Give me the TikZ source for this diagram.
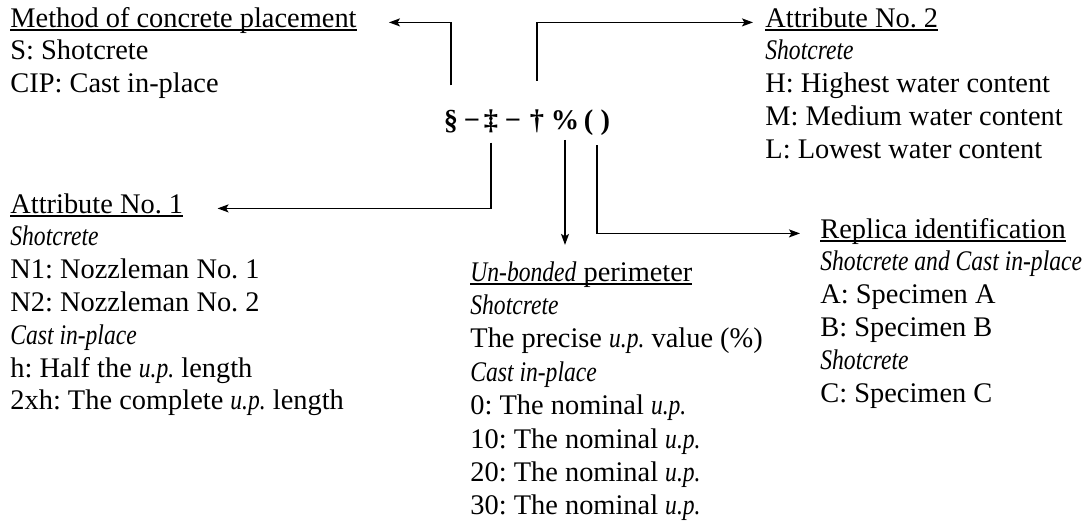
\documentclass[tikz,border=0pt]{standalone}
\usepackage{fontspec}
\setmainfont{Liberation Serif}[ItalicFeatures={FakeStretch=0.83}]
\usetikzlibrary{arrows.meta,positioning}
\frenchspacing

\newsavebox{\headbox}
\newcommand{\head}[1]{\sbox{\headbox}{#1}\rlap{\rule[-2pt]{\wd\headbox}{0.8pt}}\usebox{\headbox}}
\newcommand{\rows}[1]{\begin{tabular}[t]{@{}l@{}}#1\end{tabular}}

\begin{document}
\begin{tikzpicture}[x=0.5pt, y=-0.5pt, >={Stealth[length=5.5pt,width=4pt,inset=1.2pt]},
    txt/.style={anchor=base west, inner sep=0pt, font=\fontsize{14.2}{16.4}\selectfont},
    sym/.style={anchor=base, inner sep=0pt, font=\fontsize{14.2}{16.4}\selectfont\bfseries},
    link/.style={->, line width=0.7pt}]

    \useasboundingbox (0,0) rectangle (1088,525);

    % 1. Specimen code
    \node[sym] (sec)  at (451,129) {§};
    \node[sym] (dsh1) at (472,129) {−};
    \node[sym] (ddag) at (491,129) {‡};
    \node[sym] (dsh2) at (513,129) {−};
    \node[sym] (dag)  at (537,129) {†};
    \node[sym] (pct)  at (565,129) {\%};
    \node[sym] (par)  at (597,129) {( )};

    % 2. Method of concrete placement
    \node[txt] (mtitle) at (10,27) {\head{Method of concrete placement}};
    \node[txt] (mbody) at ([yshift=-16.4pt]mtitle.base west) {\rows{S: Shotcrete\\CIP: Cast in-place}};

    % 3. Attribute No. 2
    \node[txt] (a2title) at (765,27) {\head{Attribute No. 2}};
    \node[txt] (a2body) at ([yshift=-16.4pt]a2title.base west) {\rows{\textit{Shotcrete}\\H: Highest water content\\M: Medium water content\\L: Lowest water content}};

    % 4. Attribute No. 1
    \node[txt] (a1title) at (10,213) {\head{Attribute No. 1}};
    \node[txt] (a1body) at ([yshift=-16.4pt]a1title.base west) {\rows{\textit{Shotcrete}\\N1: Nozzleman No. 1\\N2: Nozzleman No. 2\\\textit{Cast in-place}\\h: Half the \textit{u.p.} length\\2xh: The complete \textit{u.p.} length}};

    % 5. Un-bonded perimeter
    \node[txt] (uptitle) at (470,281) {\head{\textit{Un-bonded} perimeter}};
    \node[txt, font=\fontsize{14.2}{16.7}\selectfont] (upbody) at ([yshift=-16.7pt]uptitle.base west) {\rows{\textit{Shotcrete}\\The precise \textit{u.p.} value (\%)\\\textit{Cast in-place}\\0: The nominal \textit{u.p.}\\10: The nominal \textit{u.p.}\\20: The nominal \textit{u.p.}\\30: The nominal \textit{u.p.}}};

    % 6. Replica identification
    \node[txt] (rtitle) at (820,238) {\head{Replica identification}};
    \node[txt] (rbody) at ([yshift=-16.4pt]rtitle.base west) {\rows{\textit{Shotcrete and Cast in-place}\\A: Specimen A\\B: Specimen B\\\textit{Shotcrete}\\C: Specimen C}};

    % 7. Arrows
    \draw[link] ([yshift=12pt]sec.north) |- ([xshift=16pt]mtitle.mid east);
    \draw[link] ([yshift=14pt]dag.north) |- ([xshift=-6pt]a2title.mid west);
    \draw[link] ([yshift=-5pt]ddag.south) |- ([xshift=17pt]a1title.mid east);
    \draw[link, shorten >=8pt] ([yshift=-5pt]pct.south) -- (pct.south |- uptitle.north);
    \draw[link] ([yshift=-5pt]par.south) |- ([xshift=-10pt]rtitle.mid west);

\end{tikzpicture}
\end{document}
